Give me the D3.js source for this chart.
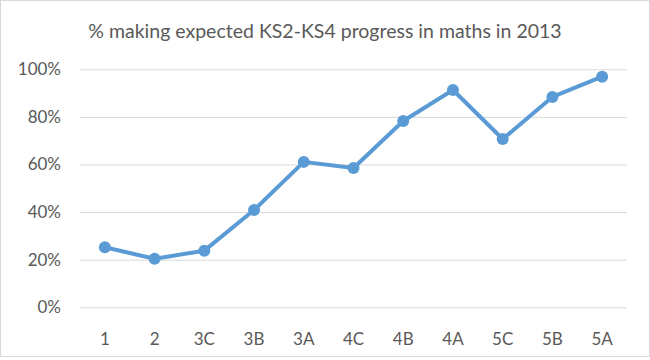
<!DOCTYPE html>
<html><head><meta charset="utf-8">
<script src="https://cdn.jsdelivr.net/npm/d3@7"></script>
<style>body{margin:0;background:#fff}svg{display:block}text{font-family:Lato,"Open Sans",sans-serif}</style>
</head><body>
<script>
const categories = ["1","2","3C","3B","3A","4C","4B","4A","5C","5B","5A"];
const values = [25.2,20.4,23.8,40.9,61.1,58.5,78.3,91.3,70.7,88.4,96.9];
const yTicks = [0,20,40,60,80,100];
const title = "% making expected KS2-KS4 progress in maths in 2013";

const W=650,H=360;
const svg=d3.select("body").append("svg").attr("width",W).attr("height",H);
svg.append("rect").attr("x",0.5).attr("y",0.5).attr("width",W-1).attr("height",H-4)
  .attr("fill","#fff").attr("stroke","#d9d9d9");

const x=d3.scaleBand().domain(categories).range([80,627]);
const y=d3.scaleLinear().domain([0,100]).range([307.3,69.3]);

svg.append("text").attr("x",325).attr("y",38).attr("text-anchor","middle")
  .attr("font-size",19.5).attr("fill","#595959").text(title);

const gy=svg.append("g").attr("transform","translate(80,0)")
  .call(d3.axisLeft(y).tickValues(yTicks).tickSize(-547).tickPadding(19).tickFormat(d=>d+"%"));
gy.select(".domain").remove();
gy.selectAll("line").attr("stroke","#d9d9d9");
gy.selectAll("text").attr("font-size",17).attr("fill","#595959").attr("font-family","Lato");

const gx=svg.append("g").attr("transform","translate(0,307.3)")
  .call(d3.axisBottom(x).tickSize(0).tickPadding(26));
gx.select(".domain").remove();
gx.selectAll("text").attr("font-size",17).attr("fill","#595959").attr("font-family","Lato");

const pts=categories.map((c,i)=>[x(c)+x.bandwidth()/2,y(values[i])]);
svg.append("path").attr("d",d3.line()(pts)).attr("fill","none")
  .attr("stroke","#5b9bd5").attr("stroke-width",4).attr("stroke-linejoin","round");
svg.selectAll("circle.m").data(pts).enter().append("circle")
  .attr("cx",d=>d[0]).attr("cy",d=>d[1]).attr("r",6).attr("fill","#5b9bd5");
</script>
</body></html>
